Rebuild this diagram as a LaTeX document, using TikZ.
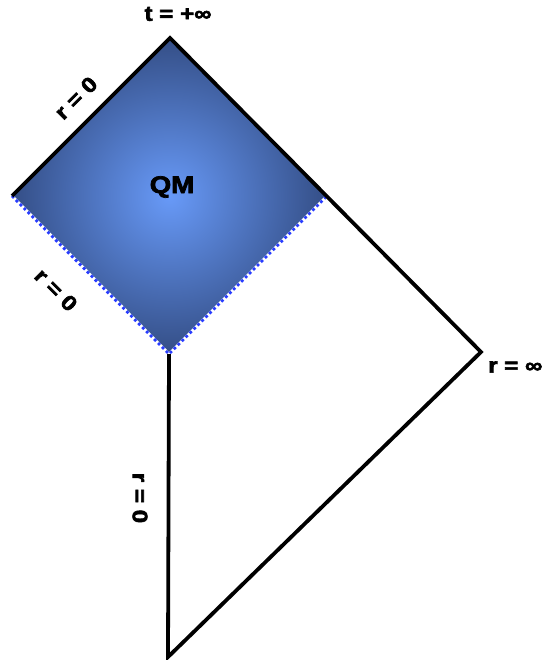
\documentclass[tikz,border=0pt]{standalone}
\usepackage{fontspec}
\setmainfont{Liberation Sans}
\newfontfamily\heavyfont{Liberation Sans Bold}[FakeBold=3,FakeStretch=1.15]
\begin{document}
\begin{tikzpicture}[x=1pt,y=-1pt,
  edge/.style={line width=3.8pt,line join=miter},
  lbl/.style={font=\heavyfont\fontsize{21}{22}\selectfont,inner sep=0pt},
  dotedge/.style={line width=2.8pt,draw={rgb,255:red,40;green,60;blue,255},dash pattern=on 2.8pt off 2.8pt}]
\useasboundingbox (0,0) rectangle (543,660);
\coordinate (T) at (170,38);
\coordinate (L) at (12,196);
\coordinate (B) at (169,354);
\coordinate (R) at (327,196);
\coordinate (Inf) at (481,352);
\coordinate (Bot) at (168,657);
% shaded diamond
\shade[inner color={rgb,255:red,104;green,154;blue,248},outer color={rgb,255:red,52;green,78;blue,134}]
  (T) -- (R) -- (B) -- (L) -- cycle;
\draw[line width=2.8pt,white] (L) -- (B) -- (R);
\draw[dotedge] (L) -- (B) -- (R);
% outer boundary
\draw[edge] (L) -- (T) -- (Inf) -- (Bot) -- (B);
% labels
\node[lbl] (tinf) at (178,14) {t = +∞};
\node[lbl] (qm) at (172,187) {\fontsize{24}{26}\selectfont QM};
\node[lbl,rotate=45] (r1) at (76,98) {r = 0};
\node[lbl,rotate=-45] (r2) at (56,290) {r = 0};
\node[lbl,rotate=-90] (r3) at (140,498) {r = 0};
\node[lbl,anchor=west] (rinf) at (488,367) {r = ∞};
\end{tikzpicture}
\end{document}
